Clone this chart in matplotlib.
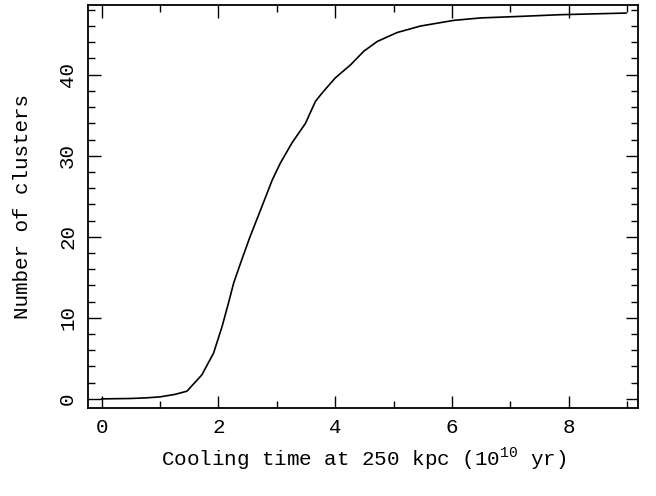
import matplotlib
matplotlib.use("Agg")
import matplotlib.pyplot as plt
from matplotlib.ticker import MultipleLocator

# Cumulative number of clusters vs cooling time at 250 kpc
cooling_time = [0.0, 0.5, 0.77, 1.0, 1.25, 1.46, 1.58, 1.715, 1.915, 2.06, 2.17, 2.26,
                2.40, 2.54, 2.72, 2.92, 3.06, 3.26, 3.49, 3.66, 3.77, 4.0, 4.26, 4.49,
                4.72, 5.06, 5.46, 6.03, 6.49, 7.2, 7.86, 8.98]
n_clusters = [0.0, 0.05, 0.13, 0.25, 0.55, 0.95, 1.9, 2.96, 5.64, 8.9, 11.8, 14.3,
              17.2, 20.0, 23.3, 27.0, 29.1, 31.6, 34.0, 36.7, 37.7, 39.6, 41.2, 42.9,
              44.1, 45.2, 46.0, 46.7, 47.0, 47.2, 47.4, 47.6]

x_ticks = [0, 2, 4, 6, 8]
y_ticks = [0, 10, 20, 30, 40]
x_label = "Cooling time at 250 kpc (10$^{10}$ yr)"
y_label = "Number of clusters"

plt.rcParams['font.family'] = ['Liberation Mono', 'DejaVu Sans Mono']
plt.rcParams['mathtext.fontset'] = 'custom'
plt.rcParams['mathtext.rm'] = 'Liberation Mono'

fig = plt.figure(figsize=(6.56, 4.96), dpi=100)
ax = fig.add_axes([0.1346, 0.177, 0.8384, 0.813])
ax.plot(cooling_time, n_clusters, color='black', lw=1.2)

ax.set_xlim(-0.23, 9.19)
ax.set_ylim(-1.15, 48.6)
ax.set_xticks(x_ticks)
ax.set_yticks(y_ticks)
ax.xaxis.set_minor_locator(MultipleLocator(1))
ax.yaxis.set_minor_locator(MultipleLocator(2))
ax.tick_params(which='both', direction='in', top=True, right=True, width=1.0, labelsize=15)
ax.tick_params(which='major', length=9)
ax.tick_params(which='minor', length=5)
ax.tick_params(axis='x', pad=7)
ax.tick_params(axis='y', pad=8)
for lab in ax.get_yticklabels():
    lab.set_rotation(90)
    lab.set_va('center')
for s in ax.spines.values():
    s.set_linewidth(1.3)

ax.set_xlabel(x_label, fontsize=15, labelpad=6)
ax.set_ylabel(y_label, fontsize=15, labelpad=19)

fig.savefig("out.png", dpi=100)
